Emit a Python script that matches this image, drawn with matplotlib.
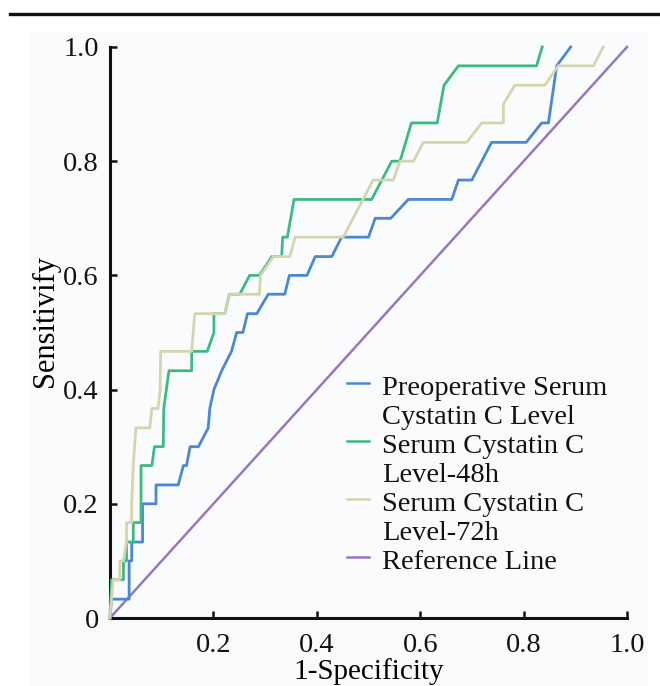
import matplotlib
matplotlib.use("Agg")
import matplotlib.pyplot as plt
from matplotlib.lines import Line2D
from matplotlib.patches import Rectangle

plt.rcParams["font.family"] = ["Liberation Serif", "DejaVu Serif"]

# ROC curves (1-specificity, sensitivity)
preop_fpr = [0, 0.003, 0.037, 0.037, 0.042, 0.042, 0.063, 0.063, 0.089, 0.089,
             0.132, 0.142, 0.148, 0.155, 0.171, 0.19, 0.193, 0.201, 0.216, 0.235,
             0.245, 0.257, 0.266, 0.284, 0.306, 0.338, 0.347, 0.381, 0.397, 0.429,
             0.448, 0.5, 0.513, 0.543, 0.577, 0.661, 0.674, 0.7, 0.719, 0.738,
             0.805, 0.835, 0.848, 0.864, 0.891]
preop_tpr = [0, 0.033, 0.033, 0.1, 0.1, 0.133, 0.133, 0.2, 0.2, 0.233,
             0.233, 0.267, 0.267, 0.3, 0.3, 0.333, 0.367, 0.4, 0.433, 0.467,
             0.5, 0.5, 0.533, 0.533, 0.567, 0.567, 0.6, 0.6, 0.633, 0.633,
             0.667, 0.667, 0.7, 0.7, 0.733, 0.733, 0.767, 0.767, 0.8, 0.833,
             0.833, 0.867, 0.867, 0.967, 1.0]

h48_fpr = [0, 0.003, 0.026, 0.026, 0.032, 0.032, 0.045, 0.045, 0.06, 0.06,
           0.081, 0.086, 0.103, 0.104, 0.114, 0.158, 0.158, 0.188, 0.201, 0.201,
           0.222, 0.231, 0.251, 0.27, 0.289, 0.313, 0.332, 0.334, 0.343, 0.356,
           0.506, 0.545, 0.561, 0.583, 0.633, 0.646, 0.674, 0.825, 0.836]
h48_tpr = [0, 0.067, 0.067, 0.1, 0.1, 0.133, 0.133, 0.167, 0.167, 0.267,
           0.267, 0.3, 0.3, 0.367, 0.433, 0.433, 0.467, 0.467, 0.5, 0.533,
           0.533, 0.567, 0.567, 0.6, 0.6, 0.633, 0.633, 0.667, 0.667, 0.733,
           0.733, 0.8, 0.8, 0.867, 0.867, 0.933, 0.967, 0.967, 1.0]

h72_fpr = [0, 0.006, 0.019, 0.019, 0.026, 0.032, 0.032, 0.042, 0.042, 0.045,
           0.05, 0.077, 0.081, 0.093, 0.097, 0.098, 0.158, 0.164, 0.222, 0.232,
           0.289, 0.291, 0.316, 0.348, 0.358, 0.451, 0.509, 0.548, 0.561, 0.587,
           0.606, 0.69, 0.719, 0.761, 0.761, 0.783, 0.841, 0.867, 0.935, 0.954]
h72_tpr = [0, 0.067, 0.067, 0.1, 0.1, 0.133, 0.167, 0.167, 0.2, 0.267,
           0.333, 0.333, 0.367, 0.367, 0.4, 0.467, 0.467, 0.533, 0.533, 0.567,
           0.567, 0.6, 0.633, 0.633, 0.667, 0.667, 0.767, 0.767, 0.8, 0.8,
           0.833, 0.833, 0.867, 0.867, 0.9, 0.933, 0.933, 0.967, 0.967, 1.0]

ref_x = [0, 1]
ref_y = [0, 1]

labels = [
    ["Preoperative Serum", "Cystatin C Level"],
    ["Serum Cystatin C", "Level-48h"],
    ["Serum Cystatin C", "Level-72h"],
    ["Reference Line"],
]
colors = ["#4a88d6", "#3dba80", "#d5d5ad", "#9a76c2"]

x_ticks = [0.2, 0.4, 0.6, 0.8, 1.0]
y_ticks = [0, 0.2, 0.4, 0.6, 0.8, 1.0]
y_ticklabels = ["0", "0.2", "0.4", "0.6", "0.8", "1.0"]

fs = 20.5

fig = plt.figure(figsize=(6.6, 6.86), dpi=100)
fig.patch.set_facecolor("white")
fig.add_artist(Rectangle((30 / 660, 0), 618 / 660, 1 - 33 / 686, transform=fig.transFigure,
                         facecolor="#fafbfd", edgecolor="none", zorder=-5))
fig.add_artist(Line2D([10 / 660, 1], [1 - 14 / 686, 1 - 14 / 686], transform=fig.transFigure,
                      color="#111111", lw=2.4))

ax = fig.add_axes([110 / 660, 68 / 686, 517 / 660, 571 / 686])
ax.set_facecolor("none")

series = [(preop_fpr, preop_tpr), (h48_fpr, h48_tpr), (h72_fpr, h72_tpr)]
for (xs, ys), c in zip(series, colors[:3]):
    ax.plot(xs, ys, color=c, lw=2.0, clip_on=False, zorder=3)
ax.plot(ref_x, ref_y, color=colors[3], lw=1.8, clip_on=False, zorder=2)

ax.set_xlim(0, 1)
ax.set_ylim(0, 1)
for side in ["top", "right"]:
    ax.spines[side].set_visible(False)
for side in ["left", "bottom"]:
    ax.spines[side].set_linewidth(2.2)
    ax.spines[side].set_color("#111111")

ax.set_xticks(x_ticks)
ax.set_xticklabels([f"{v:.1f}" for v in x_ticks])
ax.set_yticks(y_ticks)
ax.set_yticklabels(y_ticklabels)
ax.tick_params(axis="both", direction="in", length=5, width=1.8, labelsize=fs, colors="#111111")
ax.tick_params(axis="x", pad=11)
ax.tick_params(axis="y", pad=8)
ax.set_xlabel("1-Specificity", fontsize=21, labelpad=0)
ax.set_ylabel("Sensitivify", fontsize=22, va="center")
ax.yaxis.set_label_coords(-0.125, 0.52)

# legend, handle aligned with first text line
line_step = 29 / 571
y0 = (618 - 395) / 571
row = 0
for lab, c in zip(labels, colors):
    yb = y0 - row * line_step
    ax.plot([(347 - 110) / 517, (369 - 110) / 517], [yb + 12 / 571] * 2, color=c, lw=1.8,
            transform=ax.transAxes, clip_on=False)
    for line in lab:
        ax.text((382 - 110) / 517, y0 - row * line_step, line, transform=ax.transAxes,
                fontsize=fs, va="baseline", ha="left", color="#111111")
        row += 1

fig.savefig("out.png", dpi=100)
